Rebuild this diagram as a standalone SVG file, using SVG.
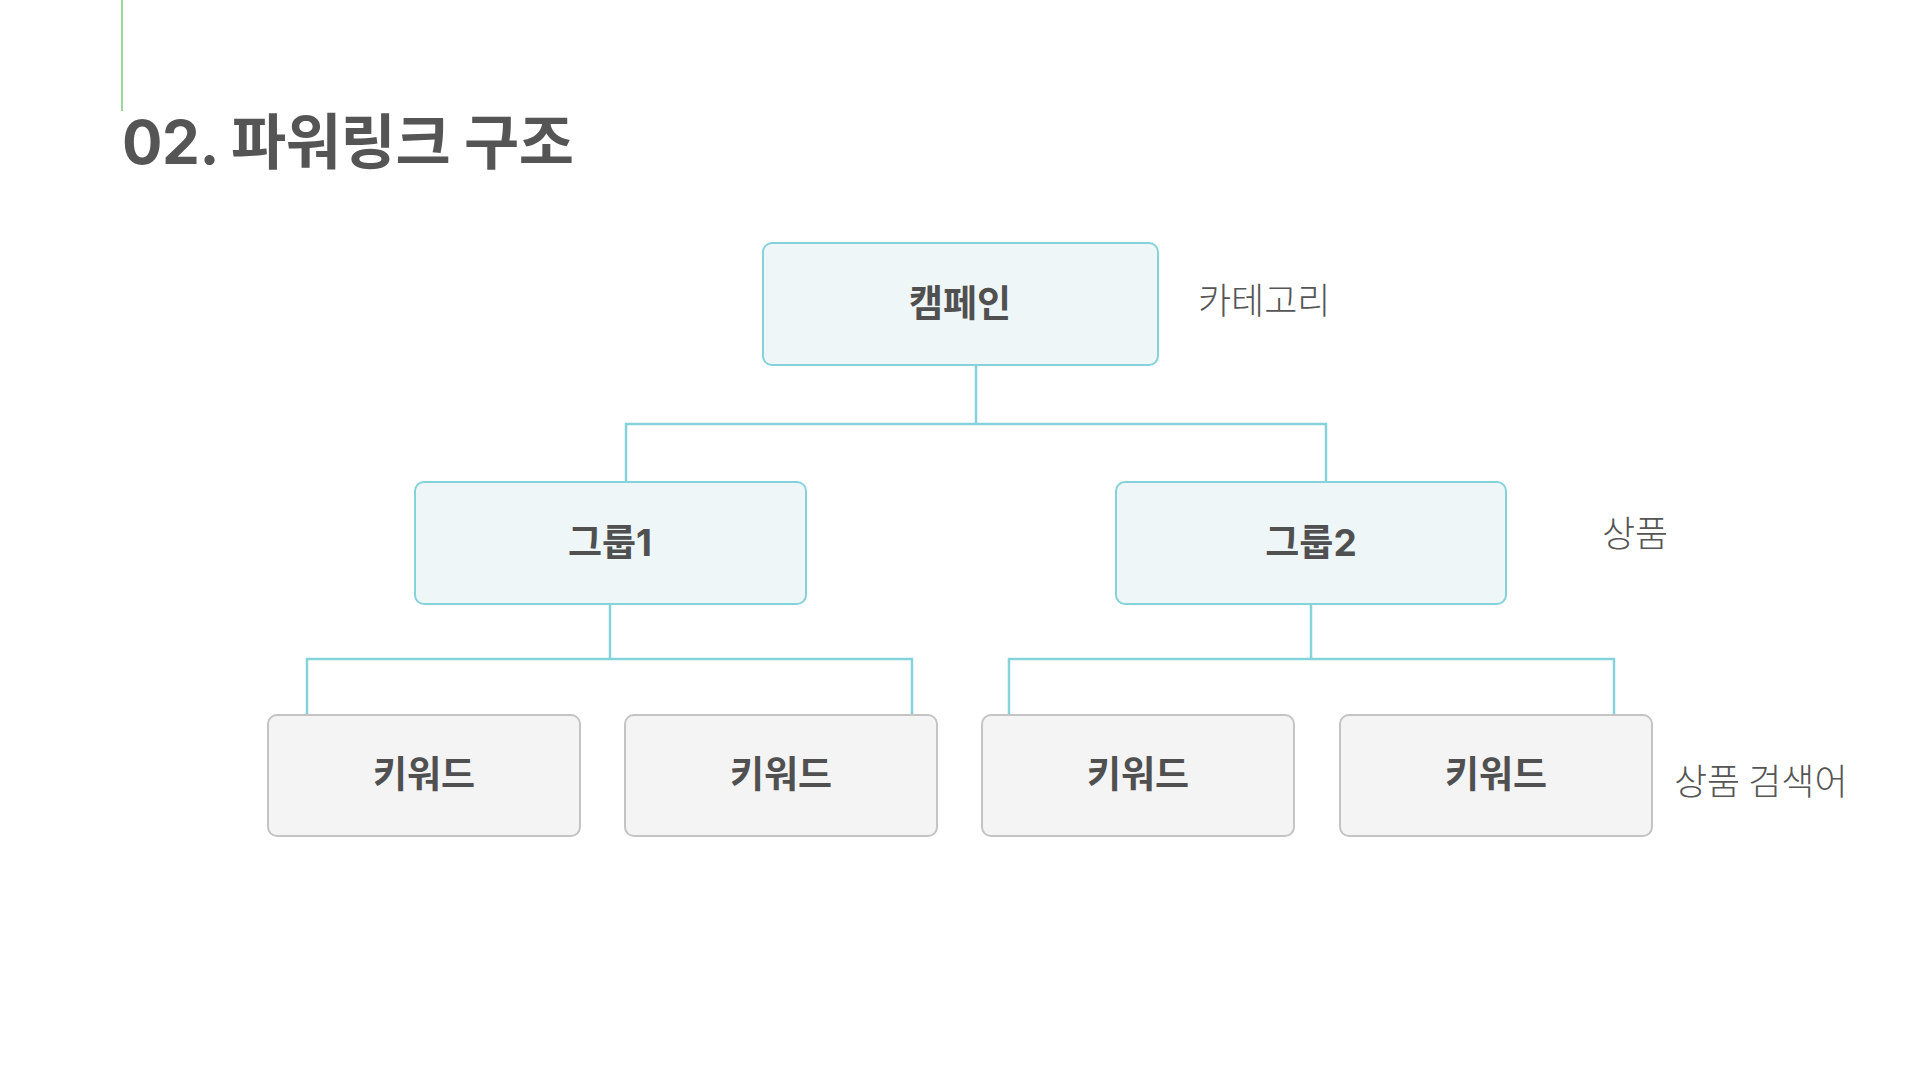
<svg xmlns="http://www.w3.org/2000/svg" width="1920" height="1080" viewBox="0 0 1920 1080">
<style>
.bg{fill:#ffffff}
.title{font-family:Inter,"Noto Sans CJK KR","Noto Sans",sans-serif;font-weight:700;font-size:60px;fill:#555555}
.lbl{font-family:Inter,"Noto Sans CJK KR","Noto Sans",sans-serif;font-weight:700;font-size:37px;fill:#505050;text-anchor:middle}
.side{font-family:"Noto Sans CJK KR","Noto Sans",sans-serif;font-weight:300;font-size:36px;fill:#555555}
.blue{fill:#eef6f8;stroke:#86d2da;stroke-width:2}
.gray{fill:#f4f4f4;stroke:#c4c4c4;stroke-width:2}
.conn{fill:none;stroke:#86d2da;stroke-width:2.5}
</style>
<rect class="bg" x="0" y="0" width="1920" height="1080"/>
<line x1="122" y1="0" x2="122" y2="111" stroke="#9ad99a" stroke-width="2"/>
<text class="title" x="122" y="164" textLength="452" lengthAdjust="spacing">02. 파워링크 구조</text>

<g id="connectors">
<path class="conn" d="M976 365 V424 M626 481 V424 H1326 V481"/>
<path class="conn" d="M610 604 V659 M307 715 V659 H912 V715"/>
<path class="conn" d="M1311 604 V659 M1009 715 V659 H1614 V715"/>
</g>

<g id="campaign">
<rect class="blue" x="763" y="243" width="395" height="122" rx="9"/>
<text class="lbl" x="960" y="317">캠페인</text>
</g>
<g id="group1">
<rect class="blue" x="415" y="482" width="391" height="122" rx="9"/>
<text class="lbl" x="610" y="556">그룹1</text>
</g>
<g id="group2">
<rect class="blue" x="1116" y="482" width="390" height="122" rx="9"/>
<text class="lbl" x="1311" y="556">그룹2</text>
</g>
<g id="kw1">
<rect class="gray" x="268" y="715" width="312" height="121" rx="9"/>
<text class="lbl" x="424" y="788">키워드</text>
</g>
<g id="kw2">
<rect class="gray" x="625" y="715" width="312" height="121" rx="9"/>
<text class="lbl" x="781" y="788">키워드</text>
</g>
<g id="kw3">
<rect class="gray" x="982" y="715" width="312" height="121" rx="9"/>
<text class="lbl" x="1138" y="788">키워드</text>
</g>
<g id="kw4">
<rect class="gray" x="1340" y="715" width="312" height="121" rx="9"/>
<text class="lbl" x="1496" y="788">키워드</text>
</g>

<g id="side-labels">
<text class="side" x="1198" y="314">카테고리</text>
<text class="side" x="1602" y="547">상품</text>
<text class="side" x="1674" y="795">상품 검색어</text>
</g>
</svg>
